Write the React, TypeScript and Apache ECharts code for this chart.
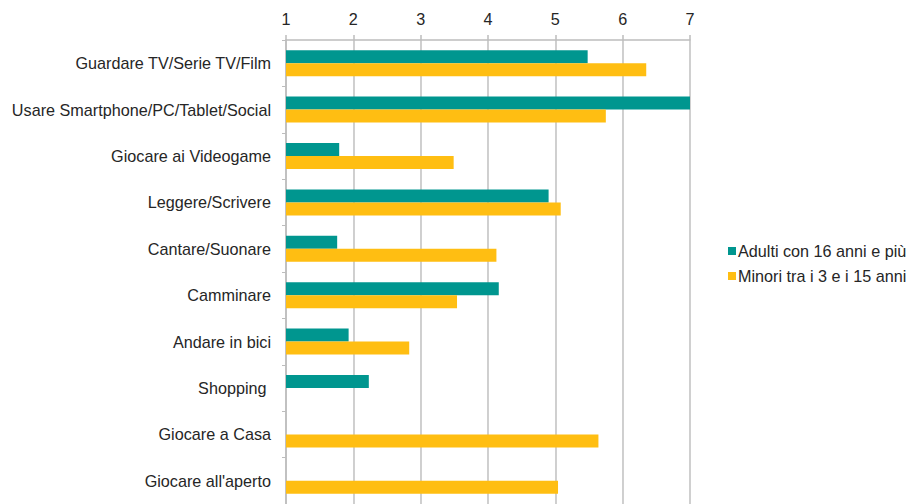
import React, { useEffect, useRef } from "react";
import * as echarts from "echarts";

const categories = [
  "Guardare TV/Serie TV/Film",
  "Usare Smartphone/PC/Tablet/Social",
  "Giocare ai Videogame",
  "Leggere/Scrivere",
  "Cantare/Suonare",
  "Camminare",
  "Andare in bici",
  "Shopping ",
  "Giocare a Casa",
  "Giocare all'aperto",
];

const adulti: (number | null)[] = [5.48, 7.0, 1.79, 4.9, 1.76, 4.16, 1.93, 2.23, null, null];
const minori: (number | null)[] = [6.35, 5.75, 3.49, 5.08, 4.125, 3.54, 2.83, null, 5.64, 5.04];

const seriesNames = ["Adulti con 16 anni e più", "Minori tra i 3 e i 15 anni"];
const xTicks = [1, 2, 3, 4, 5, 6, 7];

const FONT = "'Liberation Sans', Arial, Helvetica, sans-serif";

export default function App() {
  const ref = useRef<HTMLDivElement>(null);
  useEffect(() => {
    if (!ref.current) return;
    const chart = echarts.init(ref.current, undefined, { renderer: "svg" });
    chart.setOption({
      animation: false,
      backgroundColor: "#ffffff",
      textStyle: { fontFamily: FONT },
      grid: { left: 286, right: 218, top: 40, bottom: 0, containLabel: false },
      legend: {
        orient: "vertical",
        left: 723,
        top: 238,
        itemWidth: 8,
        itemHeight: 8,
        itemGap: 9,
        icon: "rect",
        textStyle: { fontSize: 16.2, color: "#262626", fontFamily: FONT, padding: [0, 0, 0, -3] },
        data: seriesNames,
      },
      xAxis: {
        type: "value",
        position: "top",
        min: xTicks[0],
        max: xTicks[xTicks.length - 1],
        interval: 1,
        axisLine: { show: true, lineStyle: { color: "#bdbdbd", width: 1.5 } },
        axisTick: { show: true, length: 5, lineStyle: { color: "#bdbdbd", width: 1.5 } },
        axisLabel: { fontSize: 16.2, color: "#262626", margin: 13, fontFamily: FONT },
        splitLine: { show: true, lineStyle: { color: "#c4c4c4", width: 1.6 } },
      },
      yAxis: {
        type: "category",
        inverse: true,
        data: categories,
        axisLine: { show: true, lineStyle: { color: "#bdbdbd", width: 1.5 } },
        axisTick: { show: true, length: 4, lineStyle: { color: "#bdbdbd" } },
        axisLabel: { fontSize: 16.2, color: "#262626", margin: 15, fontFamily: FONT },
      },
      series: [
        {
          name: seriesNames[0],
          type: "bar",
          data: adulti,
          itemStyle: { color: "#00968f" },
          barGap: "0%",
          barCategoryGap: "44%",
        },
        {
          name: seriesNames[1],
          type: "bar",
          data: minori,
          itemStyle: { color: "#ffbe12" },
          barGap: "0%",
          barCategoryGap: "44%",
        },
      ],
    });
    return () => chart.dispose();
  }, []);
  return <div ref={ref} style={{ width: 908, height: 504, position: "fixed", left: 0, top: 0 }} />;
}
